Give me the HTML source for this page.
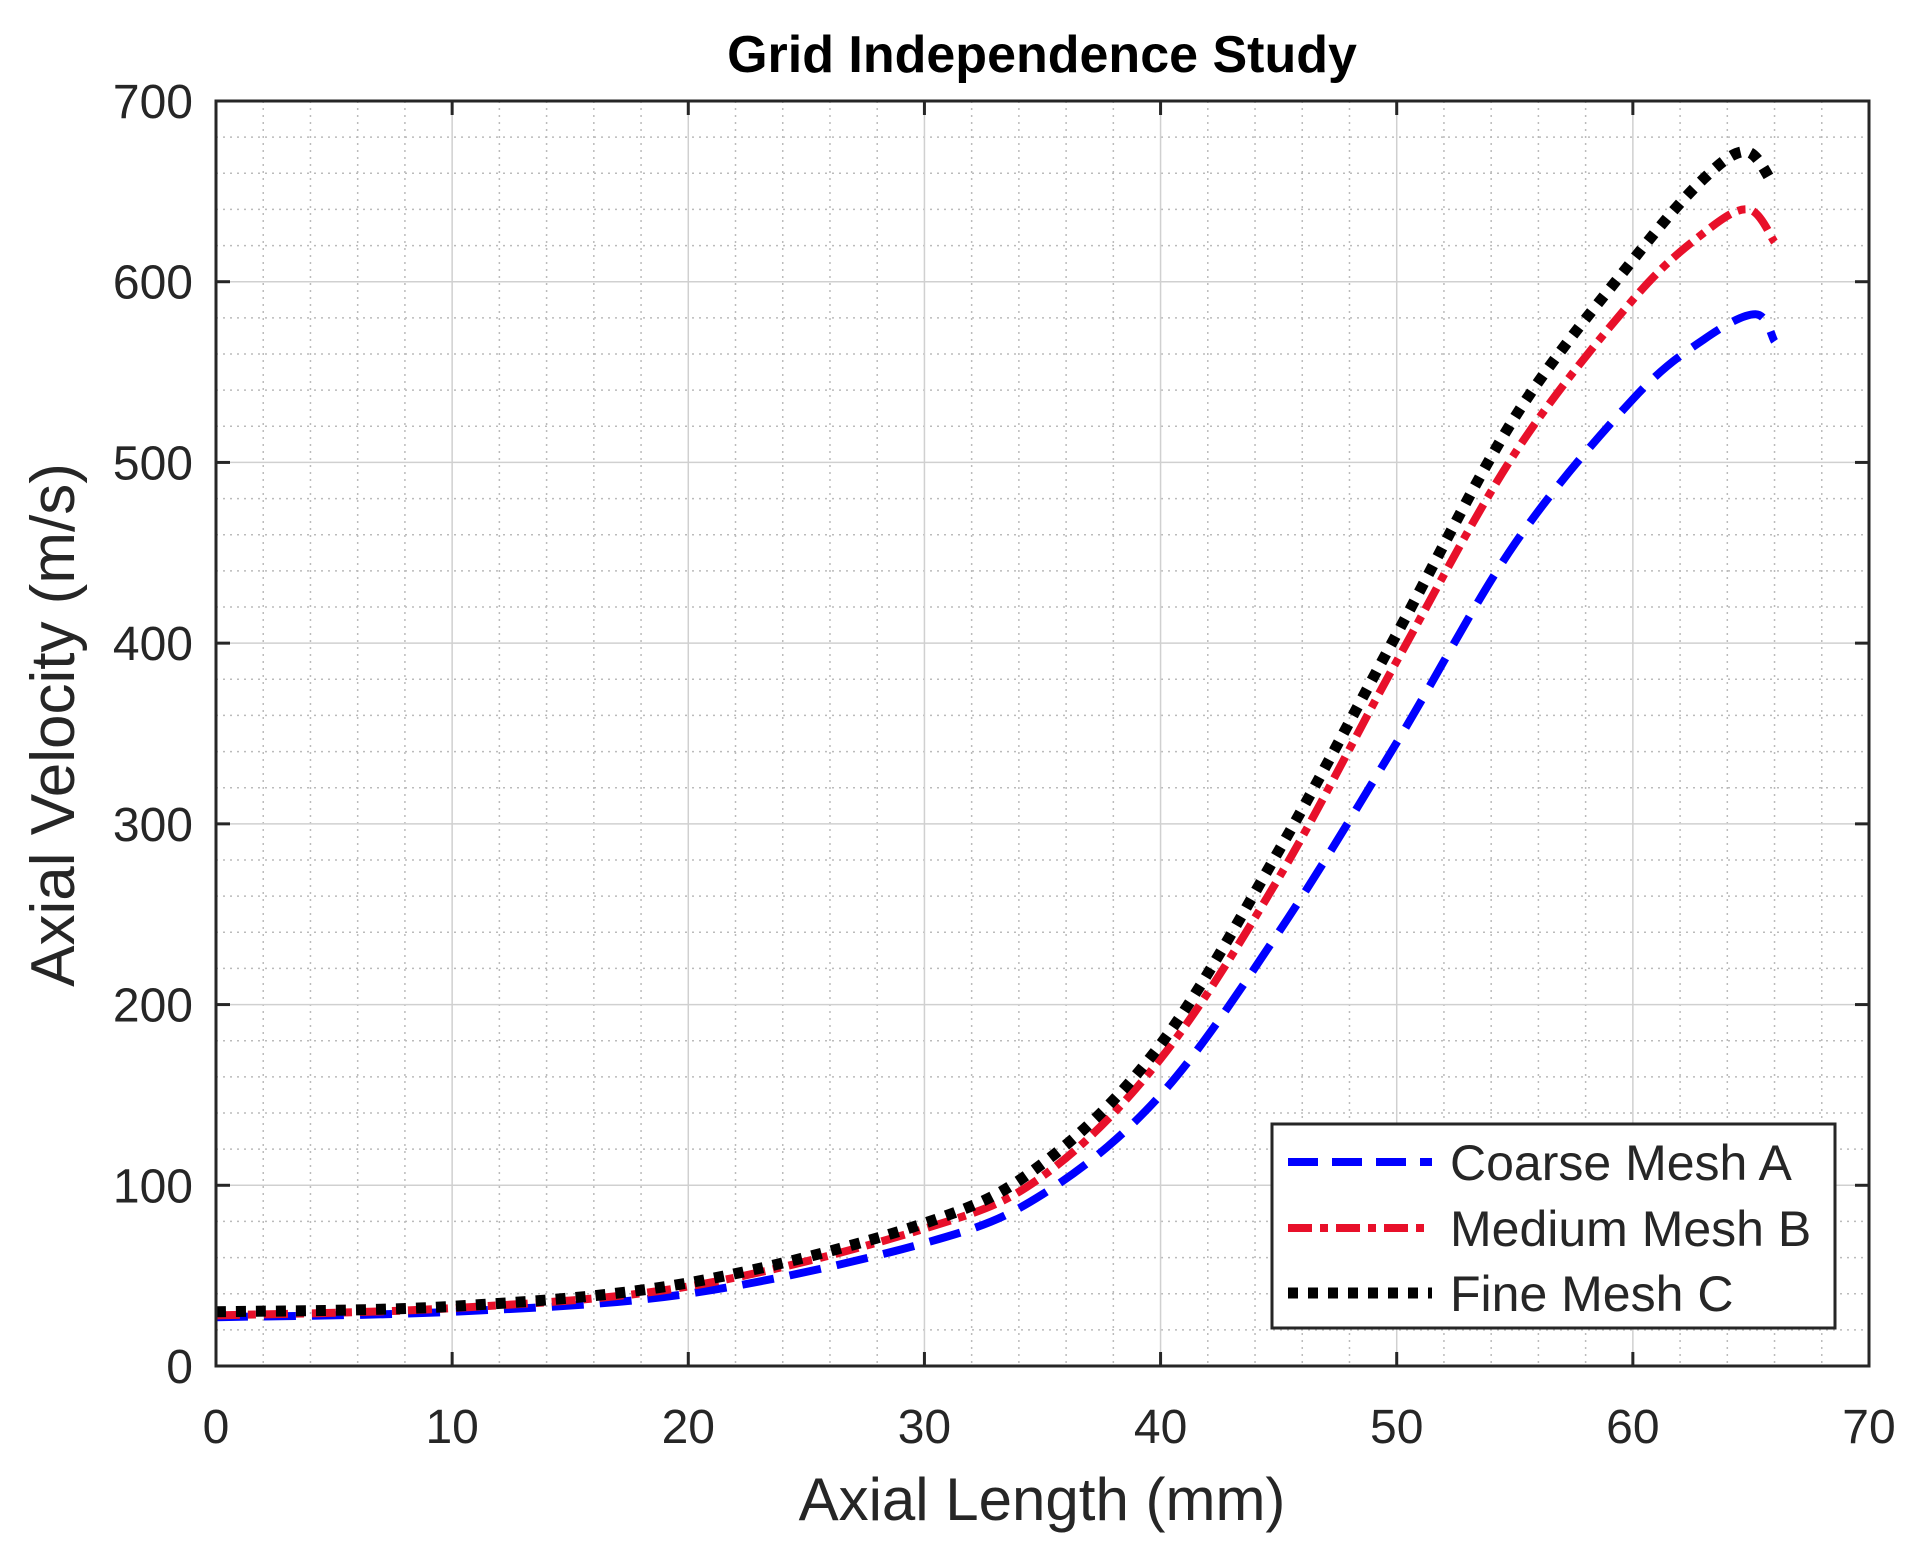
<!DOCTYPE html>
<html><head><meta charset="utf-8"><style>
html,body{margin:0;padding:0;background:#fff;}
svg{display:block;}
text{font-family:"Liberation Sans",sans-serif;fill:#262626;}
</style></head><body>
<svg id="s" width="1931" height="1566" viewBox="0 0 1931 1566" xmlns="http://www.w3.org/2000/svg">
<rect width="1931" height="1566" fill="#fff"/>
<g id="grid"></g>
<g id="curves" fill="none"></g>
<rect x="216" y="101" width="1653" height="1265" fill="none" stroke="#262626" stroke-width="3"/>
<g id="ticks"></g>
<text x="1042" y="72" font-size="52" font-weight="bold" text-anchor="middle" style="fill:#000">Grid Independence Study</text>
<text x="1042" y="1520" font-size="60" text-anchor="middle">Axial Length (mm)</text>
<text transform="translate(74,725) rotate(-90)" font-size="62" text-anchor="middle">Axial Velocity (m/s)</text>
<rect x="1272" y="1124" width="563" height="204" fill="#fff" stroke="#262626" stroke-width="3"/>
<line x1="1288" y1="1162" x2="1432" y2="1162" stroke="#0000ff" stroke-width="8" stroke-dasharray="30,14"/>
<line x1="1288" y1="1228" x2="1432" y2="1228" stroke="#e8102a" stroke-width="8" stroke-dasharray="24,8,8,8"/>
<line x1="1288" y1="1293" x2="1432" y2="1293" stroke="#000" stroke-width="11" stroke-dasharray="10,10"/>
<text x="1450" y="1180" font-size="50">Coarse Mesh A</text>
<text x="1450" y="1246" font-size="50">Medium Mesh B</text>
<text x="1450" y="1311" font-size="50">Fine Mesh C</text>
</svg>
<script>
var L=216,R=1869,T=101,B=1366;
function X(v){return L+(R-L)*v/70;}function Y(v){return B-(B-T)*v/700;}
var NS="http://www.w3.org/2000/svg";
function el(p,n,a){var e=document.createElementNS(NS,n);for(var k in a)e.setAttribute(k,a[k]);p.appendChild(e);return e;}
var g=document.getElementById('grid'),tk=document.getElementById('ticks');
for(var i=0;i<=70;i+=2){if(i%10)el(g,'line',{x1:X(i),x2:X(i),y1:T,y2:B,stroke:'#bbb','stroke-width':1.5,'stroke-dasharray':'2,5'});}
for(var i=0;i<=700;i+=20){if(i%100)el(g,'line',{x1:L,x2:R,y1:Y(i),y2:Y(i),stroke:'#bbb','stroke-width':1.5,'stroke-dasharray':'2,5'});}
for(var i=10;i<70;i+=10)el(g,'line',{x1:X(i),x2:X(i),y1:T,y2:B,stroke:'#d0d0d0','stroke-width':1.5});
for(var i=100;i<700;i+=100)el(g,'line',{x1:L,x2:R,y1:Y(i),y2:Y(i),stroke:'#d0d0d0','stroke-width':1.5});
for(var i=0;i<=70;i+=10){el(tk,'line',{x1:X(i),x2:X(i),y1:B,y2:B-14,stroke:'#262626','stroke-width':3});el(tk,'line',{x1:X(i),x2:X(i),y1:T,y2:T+14,stroke:'#262626','stroke-width':3});
var t=el(tk,'text',{x:X(i),y:1443,'font-size':48,'text-anchor':'middle'});t.textContent=i;}
for(var i=0;i<=700;i+=100){el(tk,'line',{x1:L,x2:L+14,y1:Y(i),y2:Y(i),stroke:'#262626','stroke-width':3});el(tk,'line',{x1:R,x2:R-14,y1:Y(i),y2:Y(i),stroke:'#262626','stroke-width':3});
var t=el(tk,'text',{x:193,y:Y(i)+17,'font-size':48,'text-anchor':'end'});t.textContent=i;}
function path(pts){var s='';var P=pts.map(function(p){return [X(p[0]),Y(p[1])];});
s='M'+P[0][0]+','+P[0][1];for(var i=0;i<P.length-1;i++){var p0=P[Math.max(i-1,0)],p1=P[i],p2=P[i+1],p3=P[Math.min(i+2,P.length-1)];
s+=' C'+(p1[0]+(p2[0]-p0[0])/6)+','+(p1[1]+(p2[1]-p0[1])/6)+' '+(p2[0]-(p3[0]-p1[0])/6)+','+(p2[1]-(p3[1]-p1[1])/6)+' '+p2[0]+','+p2[1];}return s;}
var c=document.getElementById('curves');
var A=[[0,27],[10,30],[20,40],[30,68],[35,95],[40,150],[45,240],[50,345],[55,455],[60,535],[63,568],[65.2,582],[66,567]];
var Bm=[[0,28],[10,32],[20,44],[30,76],[35,105],[40,170],[45,270],[50,390],[55,505],[60,590],[63,627],[64.9,640],[66,622]];
var C=[[0,30],[10,33],[20,46],[30,79],[35,112],[40,178],[45,285],[50,405],[55,525],[60,612],[63,657],[64.8,672],[65.9,655]];
el(c,'path',{d:path(A),stroke:'#0000ff','stroke-width':8,'stroke-dasharray':'32,16'});
el(c,'path',{d:path(Bm),stroke:'#e8102a','stroke-width':8,'stroke-dasharray':'24,8,8,8'});
el(c,'path',{d:path(C),stroke:'#000','stroke-width':11,'stroke-dasharray':'10,10'});
</script>
</body></html>
